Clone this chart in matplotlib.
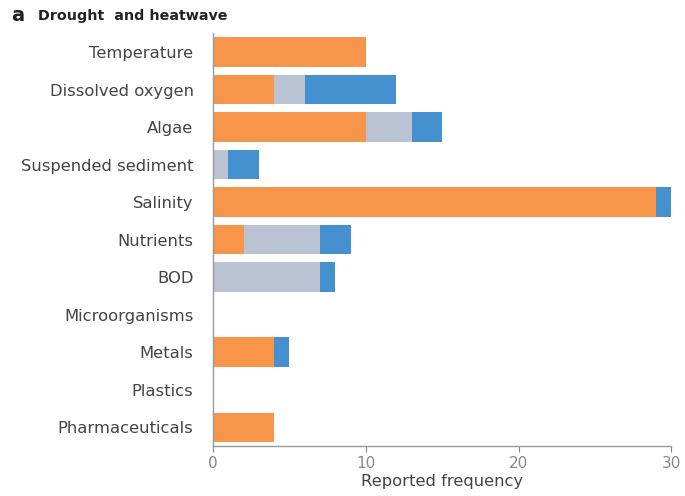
import numpy as np
import matplotlib
matplotlib.use('Agg')
import matplotlib.pyplot as plt

categories = ['Temperature', 'Dissolved oxygen', 'Algae', 'Suspended sediment', 'Salinity',
              'Nutrients', 'BOD', 'Microorganisms', 'Metals', 'Plastics', 'Pharmaceuticals']
orange_vals = [10, 4, 10, 0, 29, 2, 0, 0, 4, 0, 4]
grey_vals = [0, 2, 3, 1, 0, 5, 7, 0, 0, 0, 0]
blue_vals = [0, 6, 2, 2, 1, 2, 1, 0, 1, 0, 0]
xticks = [0, 10, 20, 30]

plt.rcParams['font.family'] = ['DejaVu Sans']

f = plt.figure(figsize=(6.85, 4.96), dpi=100)
ax = f.add_axes([0.311, 0.101, 0.669, 0.832])

y = np.arange(len(categories))
o = np.array(orange_vals)
g = np.array(grey_vals)
b = np.array(blue_vals)
h = 0.78
ax.barh(y, o, height=h, color='#F7964A')
ax.barh(y, g, left=o, height=h, color='#B9C3D3')
ax.barh(y, b, left=o + g, height=h, color='#4590CF')

ax.set_ylim(len(categories) - 0.5, -0.5)
ax.set_xlim(0, 30)
ax.set_xticks(xticks)
ax.set_yticks(y)
ax.set_yticklabels(categories, fontsize=11.8, color='#444444')
ax.tick_params(axis='y', length=0, pad=14)
ax.tick_params(axis='x', length=4, color='#888888', labelcolor='#888888', labelsize=11, width=0.8)
for s in ['top', 'right']:
    ax.spines[s].set_visible(False)
for s in ['left', 'bottom']:
    ax.spines[s].set_color('#999999')
    ax.spines[s].set_linewidth(1.0)
ax.set_xlabel('Reported frequency', fontsize=11.8, color='#444444', labelpad=2)

f.text(0.016, 0.968, 'a', fontsize=14, fontweight='bold', color='#222222', va='center')
f.text(0.055, 0.968, 'Drought  and heatwave', fontsize=10.3, fontweight='bold', color='#222222', va='center')

f.savefig('out.png', dpi=100)
plt.close()
